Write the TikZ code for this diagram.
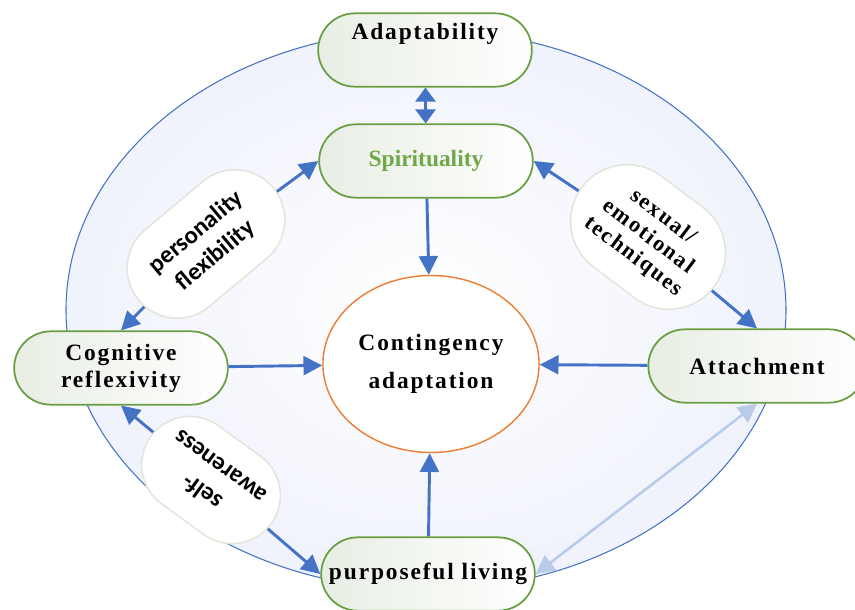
\documentclass[tikz,border=0pt]{standalone}
\usepackage{fontspec}
\setmainfont{Liberation Serif}
\newfontfamily\boxfont[LetterSpace=8]{Liberation Serif}
\newfontfamily\linkfont{Carlito}
\usepackage{tikz}
\usetikzlibrary{arrows.meta,shapes.misc,shapes.geometric}
\definecolor{ringblue}{RGB}{68,114,196}
\definecolor{ringshade}{RGB}{240,242,252}
\definecolor{boxgreen}{RGB}{106,158,66}
\definecolor{spirgreen}{RGB}{112,168,72}
\definecolor{boxshade}{RGB}{232,238,228}
\definecolor{pillline}{RGB}{224,231,218}
\definecolor{circorange}{RGB}{237,125,49}
\definecolor{paleblue}{RGB}{184,204,233}

\begin{document}
\begin{tikzpicture}[x=0.03cm,y=-0.03cm,>={Triangle[length=16pt,width=16pt]},
  factor/.style={rounded rectangle,draw=boxgreen,line width=1.5pt,
    left color=boxshade,right color=white,minimum width=6.55cm,minimum height=2.2cm,
    inner sep=2pt,align=center,font=\boxfont\bfseries\fontsize{20}{23}\selectfont},
  link/.style={rounded rectangle,draw=pillline,line width=1.3pt,fill=white,
    inner sep=2pt,align=center},
  flow/.style={draw,color=ringblue,line width=2.5pt}]
  \useasboundingbox (0,0) rectangle (855,610);
  % outer ring
  \shade[draw=ringblue,line width=0.9pt,inner color=white,outer color=ringshade]
    (426,310) ellipse [x radius=360,y radius=280];

  \node[factor,text depth=32pt] (adapt) at (425,50) {Adaptability};
  \node[factor,text=spirgreen,font=\bfseries\fontsize{20}{23}\selectfont] (spir) at (426,161) {Spirituality};
  \node[factor] (cog) at (121,368) {Cognitive\\reflexivity};
  \node[factor,minimum width=6.66cm] (att) at (757,366) {Attachment};
  \node[factor] (purp) at (428,574) {purposeful living};
  \node[ellipse,draw=circorange,line width=1.2pt,fill=white,minimum width=6.33cm,
    minimum height=5.31cm,align=center,font=\boxfont\bfseries\fontsize{20}{33}\selectfont]
    (cont) at (431,364) {Contingency\\adaptation};

  % labels on the side links
  \node[link,rotate=40,minimum width=5.4cm,minimum height=3cm,
    font=\linkfont\bfseries\fontsize{21}{26}\selectfont] (pf) at (206,244) {personality\\flexibility};
  \node[link,rotate=-37,minimum width=5.1cm,minimum height=3.4cm,
    font=\boxfont\bfseries\fontsize{19}{21}\selectfont] (sex) at (648,237) {sexual/\\emotional\\techniques};
  \node[link,rotate=144,minimum width=4.6cm,minimum height=2.9cm,
    font=\linkfont\bfseries\fontsize{21}{26}\selectfont] (self) at (211,480) {self-\\awareness};

  \path[flow,{Triangle[length=12pt,width=17pt]}-{Triangle[length=12pt,width=17pt]}] (adapt) edge (spir);
  \path[flow,->] (spir) edge (cont)
        (cog) edge (cont)
        (att) edge (cont)
        (purp) edge (cont)
        (pf) edge (spir.west)
             edge (cog.north)
        (sex) edge (spir.east)
              edge (att.north)
        (self) edge (cog.south)
               edge (purp.west);
  \draw[color=paleblue,line width=2.2pt,<->] (purp.east) -- (att.south);
\end{tikzpicture}
\end{document}
